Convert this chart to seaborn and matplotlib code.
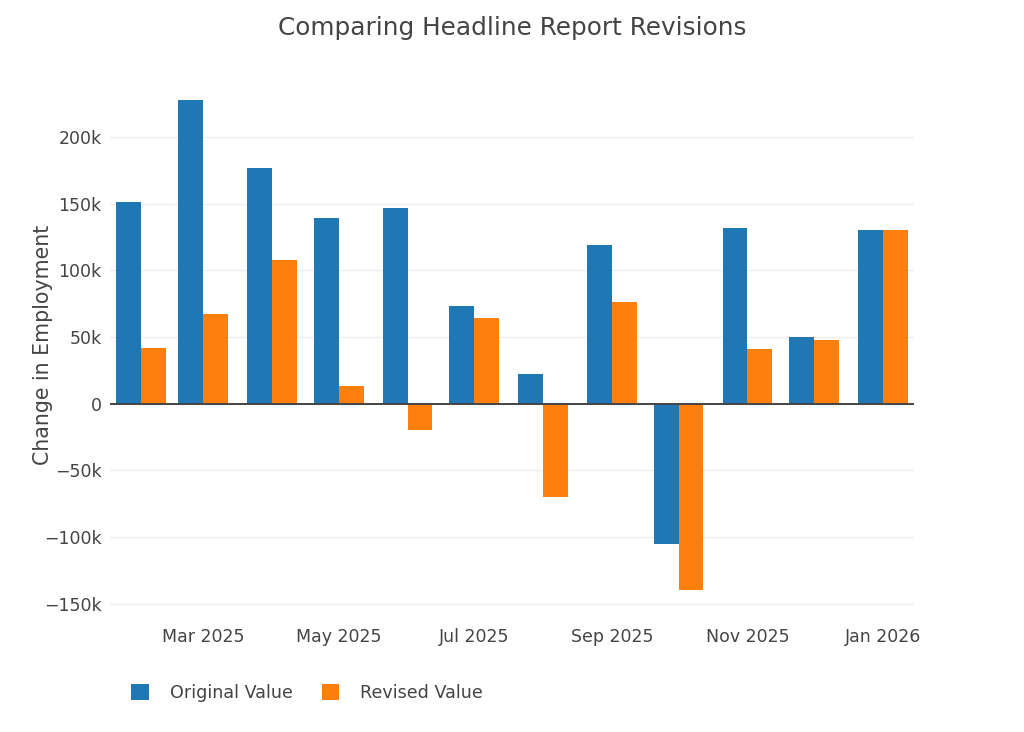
import matplotlib
matplotlib.use("Agg")
import matplotlib.dates as mdates
import matplotlib.pyplot as plt
import matplotlib.ticker as mticker
from matplotlib.patches import Patch
import pandas as pd
import seaborn as sns


MONTHS = ["2025-02-01", "2025-03-01", "2025-04-01", "2025-05-01", "2025-06-01", "2025-07-01",
          "2025-08-01", "2025-09-01", "2025-10-01", "2025-11-01", "2025-12-01", "2026-01-01"]
ORIGINAL = [151000, 228000, 177000, 139000, 147000, 73000, 22000, 119000, -105000, 132000, 50000, 130000]
REVISED = [42000, 67000, 108000, 13000, -20000, 64000, -70000, 76000, -140000, 41000, 48000, 130000]
SERIES = ["Original Value", "Revised Value"]
COLORS = ["#1f77b4", "#ff7f0e"]
Y_TICKS = [-150000, -100000, -50000, 0, 50000, 100000, 150000, 200000]


def _fmt_k(value, _pos):
    if value == 0:
        return "0"
    text = f"{abs(value) / 1000:g}k"
    return ("\u2212" + text) if value < 0 else text


dates = pd.to_datetime(MONTHS)
rows = []
for name, values in zip(SERIES, [ORIGINAL, REVISED]):
    for d, v in zip(dates, values):
        rows.append({"x": mdates.date2num(d), "value": v, "series": name})
df = pd.DataFrame(rows)

sns.set_theme(style="white")
plt.rcParams["font.family"] = ["DejaVu Sans"]

fig = plt.figure(figsize=(10.24, 7.32), dpi=100)
ax = fig.add_axes([110 / 1024, 1 - 615 / 732, 804 / 1024, 540 / 732])

sns.barplot(data=df, x="x", y="value", hue="series", native_scale=True, width=0.8,
            palette=COLORS, saturation=1, linewidth=0, errorbar=None, legend=False, ax=ax)

x0 = mdates.date2num(pd.Timestamp("2025-01-18"))
x1 = mdates.date2num(pd.Timestamp("2026-01-15"))
ax.set_xlim(x0, x1)
ax.set_ylim(-158400, 246400)

ax.xaxis.set_major_locator(mdates.MonthLocator(bymonth=[1, 3, 5, 7, 9, 11]))
ax.xaxis.set_major_formatter(mdates.DateFormatter("%b %Y"))
ax.yaxis.set_major_locator(mticker.FixedLocator(Y_TICKS))
ax.yaxis.set_major_formatter(mticker.FuncFormatter(_fmt_k))

ax.grid(axis="y", color="#eeeeee", linewidth=1)
ax.grid(axis="x", visible=False)
ax.set_axisbelow(True)
ax.axhline(0, color="#444444", linewidth=1.4, zorder=3)
for spine in ax.spines.values():
    spine.set_visible(False)

ax.tick_params(axis="x", length=0, pad=9.5, labelsize=12.5, labelcolor="#444444")
ax.tick_params(axis="y", length=0, pad=6, labelsize=12.5, labelcolor="#444444")
ax.set_xlabel("")
ax.set_ylabel("Change in Employment", fontsize=14.8, color="#444444")
ax.yaxis.set_label_coords(-0.071, 0.5)

fig.suptitle("Comparing Headline Report Revisions", x=0.5, y=1 - 28 / 732, va="center",
             fontsize=17.8, color="#444444")

handles = [Patch(facecolor=c, edgecolor="none") for c in COLORS]
fig.legend(handles, SERIES, loc="center left", bbox_to_anchor=(0.113, 1 - 693 / 732), ncol=2,
           frameon=False, fontsize=12.6, handlelength=1.0, handleheight=1.0, handletextpad=1.2,
           columnspacing=1.65, labelcolor="#444444")

fig.savefig("out.png", dpi=100)
plt.close(fig)
